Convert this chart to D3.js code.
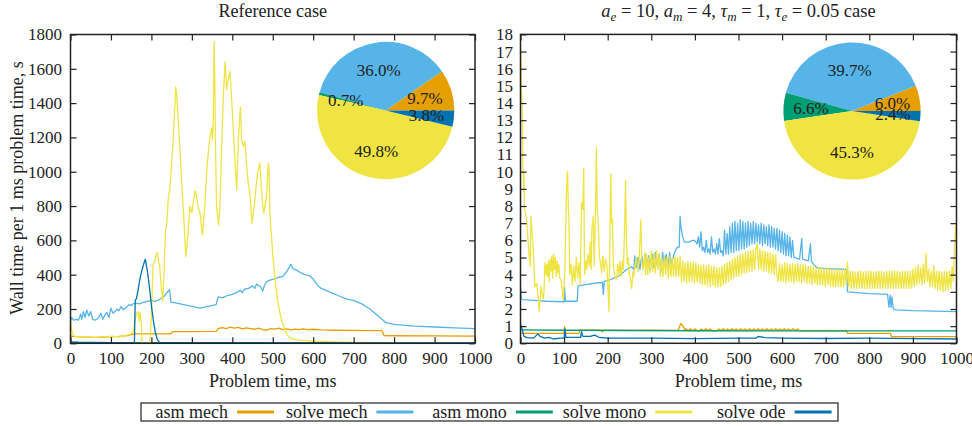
<!DOCTYPE html>
<html><head><meta charset="utf-8">
<script src="https://cdn.jsdelivr.net/npm/d3@7"></script>
<style>
body{margin:0;background:#fff}
svg{display:block}
text{font-family:"Liberation Serif","Times New Roman",serif;fill:#222}
</style>
</head><body>
<svg id="chart" width="972" height="426"></svg>
<script>
// ---------------- DATA ----------------
const seriesNames = ["asm mech", "solve mech", "asm mono", "solve mono", "solve ode"];
const seriesColors = ["#E69F00", "#56B4E9", "#009E73", "#F0E442", "#0072B2"];
const xTicks = [0, 100, 200, 300, 400, 500, 600, 700, 800, 900, 1000];
const yTicksLeft = [0, 200, 400, 600, 800, 1000, 1200, 1400, 1600, 1800];
const yTicksRight = [0,1,2,3,4,5,6,7,8,9,10,11,12,13,14,15,16,17,18];
const titleLeft = "Reference case";
const xLabel = "Problem time, ms";
const yLabel = "Wall time per 1 ms problem time, s";
const pieLeft = [9.7, 36.0, 0.7, 49.8, 3.8];
const pieRight = [6.0, 39.7, 6.6, 45.3, 2.4];

// Left panel (reference case), [time ms, wall time s]
const asmMechLeft = [[0,43],[5,40],[20,38],[40,36],[60,35],[80,36],[100,38],[120,40],[140,45],[150,50],[160,55],[200,55],[248,55],[252,68],[300,68],[360,70],[365,85],[375,92],[385,86],[395,95],[405,88],[415,93],[425,84],[435,90],[445,85],[455,82],[465,88],[475,80],[485,76],[495,86],[505,82],[515,88],[525,80],[535,84],[545,78],[555,83],[565,80],[575,84],[585,80],[600,82],[620,78],[650,76],[700,75],[770,74],[775,45],[800,44],[900,43],[1000,42]];
const solveMechLeft = [[0,130],[3,150],[8,135],[15,140],[20,135],[25,170],[28,140],[32,185],[36,150],[40,195],[45,160],[50,185],[55,140],[60,135],[65,140],[70,150],[75,175],[80,140],[85,165],[90,180],[95,150],[100,205],[105,175],[110,185],[115,200],[120,190],[125,215],[130,195],[135,205],[140,215],[145,225],[150,220],[155,230],[160,235],[170,230],[180,238],[190,245],[200,250],[210,245],[220,255],[230,270],[240,300],[245,312],[248,240],[260,235],[280,225],[300,215],[320,205],[340,215],[360,225],[365,270],[375,265],[390,280],[400,285],[410,295],[420,310],[425,295],[430,315],[440,320],[450,335],[455,320],[460,345],[470,330],[475,305],[480,340],[485,360],[495,370],[505,375],[515,385],[525,390],[535,420],[545,460],[550,435],[560,425],[570,410],[580,400],[590,395],[600,375],[610,340],[620,320],[630,310],[640,300],[650,290],[660,280],[670,270],[680,260],[690,255],[700,250],[720,230],[740,200],[760,160],[770,140],[780,120],[800,110],[850,100],[900,95],[950,90],[1000,85]];
const asmMonoLeft = [[0,4],[500,3],[1000,3]];
const solveMonoLeft = [[0,130],[2,90],[5,55],[10,42],[20,38],[30,40],[40,35],[50,38],[60,33],[70,36],[80,40],[90,38],[100,42],[110,40],[120,38],[130,42],[140,48],[150,55],[155,65],[160,140],[163,170],[167,185],[170,130],[172,180],[175,120],[177,0],[196,0],[200,150],[204,460],[208,480],[212,515],[215,530],[218,470],[220,460],[224,340],[228,245],[231,400],[235,660],[238,700],[242,850],[246,913],[250,1050],[254,1185],[256,1300],[258,1380],[260,1495],[263,1440],[266,1320],[270,1150],[275,935],[280,740],[285,505],[290,620],[295,800],[300,760],[305,850],[308,890],[312,850],[316,790],[320,760],[326,630],[332,800],[337,1010],[342,1150],[345,1205],[349,1255],[351,1185],[353,1300],[355,1760],[357,1500],[358,1240],[361,800],[366,690],[369,780],[372,1000],[375,1245],[378,1440],[382,1640],[386,1480],[390,1535],[394,1585],[398,1440],[403,1225],[406,1090],[411,895],[415,1185],[420,1380],[423,1185],[427,1150],[431,1175],[435,1050],[440,920],[443,880],[449,700],[452,760],[456,840],[462,990],[466,1030],[468,1050],[472,900],[475,810],[478,760],[482,820],[485,870],[489,1050],[491,1000],[493,750],[497,620],[501,486],[505,390],[509,310],[513,240],[518,175],[522,130],[526,105],[535,50],[543,30],[555,22],[570,18],[600,12],[650,8],[700,5],[800,4],[900,3],[1000,3]];
const solveOdeLeft = [[0,8],[20,6],[60,5],[100,4],[158,4],[160,250],[163,260],[167,310],[172,380],[177,430],[182,470],[185,490],[188,450],[192,390],[196,310],[200,220],[205,130],[210,60],[215,20],[220,5],[300,3],[500,2],[1000,2]];

// Right panel, [time ms, wall time s]
const asmMechRightHead = [[0,0.58],[100,0.58],[101,0.97],[103,0.58],[134,0.58],[136,0.76],[185,0.76],[188,0.66],[190,0.76],[250,0.75],[300,0.76],[340,0.75],[362,0.76],[365,1.0],[368,1.15],[371,1.05],[374,0.95],[377,0.8]];
const asmMechRightOsc = [0.84,0.73,0.85,0.73,0.84,0.74,0.72,0.84,0.73,0.85,0.73,0.84,0.73,0.72,0.72,0.84,0.73,0.85,0.73,0.84,0.73,0.85,0.74,0.84,0.73,0.85,0.73,0.84,0.72,0.85,0.73,0.84,0.73,0.85,0.73,0.84,0.73,0.85,0.73,0.84,0.73,0.85,0.73,0.84,0.73,0.85,0.73,0.84,0.73,0.85,0.73,0.84,0.72];
const asmMechRightOscStart = 380, asmMechRightOscStep = 5;
const asmMechRightTail = [[645,0.73],[748,0.72],[750,0.58],[848,0.58],[851,0.39],[1000,0.39]];

const solveMechRightHead = [[0,3.2],[2,2.6],[5,2.55],[30,2.5],[60,2.45],[100,2.42],[101,3.25],[103,2.45],[130,2.45],[132,3.35],[150,3.42],[170,3.5],[188,3.55],[190,2.85],[192,3.6],[210,3.75],[228,3.95],[243,4.3],[255,4.45],[260,4.3],[262,5.1],[265,4.4],[270,5.0],[274,4.3],[278,5.1],[282,4.4],[286,5.2],[290,4.5],[294,5.1],[298,4.3],[302,5.2],[306,4.4],[310,5.3],[314,4.5],[318,5.2],[322,4.2],[326,5.3],[330,4.5],[334,5.2],[338,4.4],[342,5.3],[346,4.6],[350,5.0],[355,5.4],[360,5.6],[364,5.6],[366,7.4],[368,6.8],[372,6.2],[376,5.9],[385,5.9],[395,6.0],[399,6.0]];
const solveMechRightOsc = [5.9,5.8,6.2,5.6,6.5,5.4,5.6,5.3,6.0,5.3,5.5,5.2,6.2,5.3,5.5,5.2,5.8,5.2,6.1,5.3,5.4,5.1,6.6,5.2,6.4,5.2,6.8,5.3,7.0,5.3,7.1,5.4,7.0,5.4,7.2,5.5,7.1,5.5,7.0,5.6,7.1,5.7,7.0,5.8,7.1,5.8,7.0,5.9,6.9,5.8,7.0,5.7,6.9,5.8,6.8,5.7,6.9,5.6,6.8,5.6,6.7,5.5,6.7,5.4,6.6,5.3,6.5,5.2,6.4,5.1,6.3,5.1,6.2,5.0,6.0,5.0,5.0];
const solveMechRightOscStart = 402, solveMechRightOscStep = 3;
const solveMechRightTail = [[633,4.95],[640,4.9],[645,6.1],[647,4.9],[660,4.8],[665,5.8],[667,4.8],[672,4.6],[680,4.4],[700,4.35],[748,4.3],[750,3.0],[800,2.9],[842,2.85],[845,2.1],[848,2.8],[850,2.1],[852,2.7],[855,2.0],[860,1.95],[900,1.9],[1000,1.85]];

const asmMonoRight = [[0,0.78],[100,0.76],[400,0.73],[1000,0.72]];

const solveMonoRightHead = [[0,17.2],[1,16.5],[2,14.4],[3,14.5],[4,13.7],[5,12],[5.5,9.9],[6.5,10],[7,8.8],[8,9.9],[9,7.8],[12,7.5],[14,7.2],[16,6.5],[18,5.8],[20,5.0],[22,4.5],[24,7.4],[25.6,6.8],[29,5.6],[33,3.3],[37,3.5],[40,2.8],[43,1.85],[47,3.3],[50,2.8],[52,2.6],[54,3.0],[56,4.7],[58,4.0],[60,4.6],[62,3.9],[64,4.8],[66,3.6],[68,4.9],[70,4.2],[72,5.1],[74,3.8],[76,5.2],[78,4.3],[80,5.0],[82,3.9],[84,4.8],[86,4.1],[88,4.6],[90,3.8],[93,3.7],[96,3.0],[98,2.5],[102,4.5],[105,8.5],[107,9.9],[108,10.0],[110,7.6],[111,7.5],[113,4.0],[116,4.6],[119,3.4],[122,4.5],[125,3.6],[128,5.0],[131,3.8],[134,4.7],[137,3.4],[140,8.2],[143,7.8],[145,10.2],[147,4.0],[150,4.8],[152,4.3],[155,5.2],[158,4.5],[160,5.9],[162,4.3],[164,6.8],[166,7.0],[167,7.4],[169,4.5],[172,7.5],[174,11.4],[176,8.0],[178,7.2],[181,5.0],[183,4.8],[186,4.1],[189,5.1],[192,4.2],[195,4.9],[198,4.6],[201,3.0],[203,1.85],[205,6.0],[207,9.9],[209,7.0],[211,7.2],[213,4.5],[216,4.0],[220,3.7],[223,4.6],[226,4.0],[228,4.8],[231,3.9],[234,4.8],[236,4.3],[239,7.0],[241,9.5],[243,6.0],[245,4.6],[247,5.0],[250,4.0],[253,3.6],[255,3.2],[258,4.2],[260,3.9],[263,4.6],[266,5.0],[269,4.2],[272,4.8],[274,6.0],[276,7.2],[278,5.0],[280,4.3],[282,4.5],[285,5.3],[287,4.0],[289,5.2],[292,4.0],[294,5.0],[297,4.1]];
const solveMonoRightOsc = [5.4,4.2,5.3,4.1,5.4,4.3,5.2,
 3.9,5.0,3.9,5.1,4.0,5.0,3.8,5.1,3.9,5.0,3.9,5.05,3.9,5.0,3.9,5.1,
 3.6,4.8,3.6,4.7,3.5,4.8,3.6,4.7,3.6,4.75,3.5,4.7,3.6,4.6,3.5,
 4.55,3.4,4.6,3.4,4.5,3.4,4.55,3.3,4.5,3.4,4.5,3.3,4.4,3.3,4.4,3.3,4.5,3.4,4.6,3.5,
 4.7,3.6,4.8,3.7,4.9,3.8,5.0,3.9,5.1,3.9,5.2,4.0,5.2,4.1,5.3,4.1,5.35,4.2,5.4,4.2,5.45,4.3,5.5,
 5.8,4.3,
 5.5,4.3,5.4,4.2,5.35,4.2,5.3,4.1,5.25,4.1,5.2,4.0,5.15,4.0,
 3.6,4.65,3.6,4.6,3.6,4.7,3.5,4.65,3.6,4.6,3.6,4.65,3.5,4.6,3.6,4.65,3.6,4.6,3.5,4.6,3.6,4.55,
 3.5,4.5,3.5,4.5,3.4,4.45,3.5,4.4,3.4,4.4,3.4,4.4,3.4,4.35,3.3,4.4,3.4,4.35,3.3,4.3,3.3,4.3,3.3,4.3,3.3,4.3,3.3,4.3,3.3,4.3,3.4,
 4.75,
 3.3,4.2,3.2,4.2,3.2,4.15,3.2,4.2,3.2,4.2,3.2,4.15,3.2,4.2,3.2,4.2,3.2,4.2,3.2,4.15,3.2,4.2,3.2,4.2,3.2,4.2,3.2,4.15,3.2,4.2,3.2,4.2,3.2,4.2,3.2,4.2,3.2,4.2,3.2,4.15,3.2,4.2,3.2,4.2,3.2,4.2,3.2,4.2,3.2,4.3,3.3,4.4,3.4,
 4.55,3.5,4.4,3.4,4.6,3.5,5.25,3.6,4.3,3.3,4.2,3.3,4.55,3.2,4.2,3.1,4.2,3.1,4.15,3.0,4.2,3.1,4.2,3.1,4.2,3.2,4.5,3.6,6.0,6.9];
const solveMonoRightOscStart = 300, solveMonoRightOscStep = 3;

const solveOdeRight = [[0,1.1],[3,0.9],[8,0.4],[15,0.33],[30,0.3],[40,0.55],[45,0.4],[55,0.3],[65,0.35],[75,0.25],[90,0.3],[100,0.3],[102,0.85],[104,0.35],[138,0.35],[140,0.68],[143,0.4],[160,0.4],[170,0.48],[180,0.35],[200,0.3],[300,0.3],[400,0.27],[500,0.3],[540,0.3],[545,0.4],[560,0.33],[600,0.3],[700,0.28],[800,0.3],[900,0.27],[1000,0.25]];

// -------------- helpers ---------------
function uniform(vals, start, step) { return vals.map((v, i) => [start + i * step, v]); }
const leftSeries = [asmMechLeft, solveMechLeft, asmMonoLeft, solveMonoLeft, solveOdeLeft];
const rightSeries = [
  asmMechRightHead.concat(uniform(asmMechRightOsc, asmMechRightOscStart, asmMechRightOscStep), asmMechRightTail),
  solveMechRightHead.concat(uniform(solveMechRightOsc, solveMechRightOscStart, solveMechRightOscStep), solveMechRightTail),
  asmMonoRight,
  solveMonoRightHead.concat(uniform(solveMonoRightOsc, solveMonoRightOscStart, solveMonoRightOscStep)),
  solveOdeRight
];

const svg = d3.select("#chart");
const FS = 17;

function panel(cfg) {
  const x = d3.scaleLinear().domain([0, 1000]).range([cfg.x0, cfg.x1]);
  const y = d3.scaleLinear().domain([0, cfg.ymax]).range([cfg.y0, cfg.y1]);
  const g = svg.append("g");
  const clipId = "clip" + cfg.id;
  svg.append("clipPath").attr("id", clipId).append("rect")
    .attr("x", cfg.x0).attr("y", cfg.y1).attr("width", cfg.x1 - cfg.x0).attr("height", cfg.y0 - cfg.y1);
  const line = d3.line().x(d => x(d[0])).y(d => y(d[1]));
  const lg = g.append("g").attr("clip-path", `url(#${clipId})`);
  cfg.series.forEach((s, i) => {
    lg.append("path").attr("d", line(s)).attr("fill", "none")
      .attr("stroke", seriesColors[i]).attr("stroke-width", 1.3).attr("stroke-linejoin", "round");
  });
  const T = 6;
  const fmt = d3.format("d");
  const ax = (gen, tr) => {
    const a = g.append("g").attr("transform", tr).call(gen);
    a.select(".domain").remove();
    a.selectAll("line").attr("stroke", "#222").attr("stroke-width", 1.2);
    a.selectAll("text").attr("font-size", FS).attr("fill", "#222").attr("font-family", "Liberation Serif");
    return a;
  };
  ax(d3.axisBottom(x).tickValues(xTicks).tickSize(-T).tickPadding(8.5).tickFormat(fmt), `translate(0,${cfg.y0})`);
  ax(d3.axisTop(x).tickValues(xTicks).tickSize(-T).tickFormat(""), `translate(0,${cfg.y1})`);
  ax(d3.axisLeft(y).tickValues(cfg.yTicks).tickSize(-T).tickPadding(cfg.ypad).tickFormat(fmt), `translate(${cfg.x0},0)`);
  ax(d3.axisRight(y).tickValues(cfg.yTicks).tickSize(-T).tickFormat(""), `translate(${cfg.x1},0)`);
  g.append("rect").attr("x", cfg.x0).attr("y", cfg.y1).attr("width", cfg.x1 - cfg.x0).attr("height", cfg.y0 - cfg.y1)
    .attr("fill", "none").attr("stroke", "#222").attr("stroke-width", 1.5);
  g.append("text").attr("x", (cfg.x0 + cfg.x1) / 2).attr("y", 387).attr("text-anchor", "middle")
    .attr("font-size", 18).text(xLabel);
  // pie
  const pie = d3.pie().sort(null).startAngle(Math.PI / 2).endAngle(Math.PI / 2 - 2 * Math.PI);
  const arcs = pie(cfg.pie);
  const R = 68.6;
  const arc = d3.arc().innerRadius(0).outerRadius(R);
  const labArc = d3.arc().innerRadius(R * 0.6).outerRadius(R * 0.6);
  const pg = g.append("g").attr("transform", `translate(${cfg.pcx},${cfg.pcy})`);
  pg.selectAll("path").data(arcs).join("path").attr("d", arc).attr("fill", (d, i) => seriesColors[i]);
  pg.selectAll("text").data(arcs).join("text")
    .attr("transform", d => `translate(${labArc.centroid(d)})`)
    .attr("text-anchor", "middle").attr("dy", "0.35em").attr("font-size", 17)
    .text(d => d.data.toFixed(1) + "%");
  return g;
}

panel({id: "L", x0: 70.5, x1: 475, y0: 343.3, y1: 34.5, ymax: 1800, yTicks: yTicksLeft, ypad: 8.5,
  series: leftSeries, pie: pieLeft, pcx: 385.7, pcy: 110.5});
panel({id: "R", x0: 520.5, x1: 956.5, y0: 343.3, y1: 34.4, ymax: 18, yTicks: yTicksRight, ypad: 7.5,
  series: rightSeries, pie: pieRight, pcx: 852, pcy: 111});

// titles
svg.append("text").attr("x", 272.7).attr("y", 17).attr("text-anchor", "middle").attr("font-size", 18).text(titleLeft);
const tR = svg.append("text").attr("x", 738.5).attr("y", 17).attr("text-anchor", "middle").attr("font-size", 18.5);
const titleRightParts = [["a","i"],["e","s"],[" = 10, ","n"],["a","i"],["m","s"],[" = 4, ","n"],["τ","i"],["m","s"],[" = 1, ","n"],["τ","i"],["e","s"],[" = 0.05 case","n"]];
let prevSub = false;
titleRightParts.forEach(([t, k]) => {
  const ts = tR.append("tspan").text(t);
  if (k === "i") ts.attr("font-style", "italic");
  if (k === "s") { ts.attr("font-style", "italic").attr("font-size", 13).attr("dy", 4); prevSub = true; }
  else if (prevSub) { ts.attr("dy", -4); prevSub = false; }
});

// y label
svg.append("text").attr("transform", "translate(23,188) rotate(-90)").attr("text-anchor", "middle")
  .attr("font-size", 18).text(yLabel);

// legend
const legX0 = 141, legY = 403, legW = 697, legH = 18, colW = 139.4;
svg.append("rect").attr("x", legX0).attr("y", legY).attr("width", legW).attr("height", legH)
  .attr("fill", "none").attr("stroke", "#222").attr("stroke-width", 1.2);
seriesNames.forEach((n, i) => {
  const sx = 237 + i * colW;
  svg.append("text").attr("x", sx - 9).attr("y", legY + 14.5).attr("text-anchor", "end").attr("font-size", 18).text(n);
  svg.append("line").attr("x1", sx).attr("x2", sx + 37).attr("y1", legY + legH / 2).attr("y2", legY + legH / 2)
    .attr("stroke", seriesColors[i]).attr("stroke-width", 3);
});
</script>
</body></html>
